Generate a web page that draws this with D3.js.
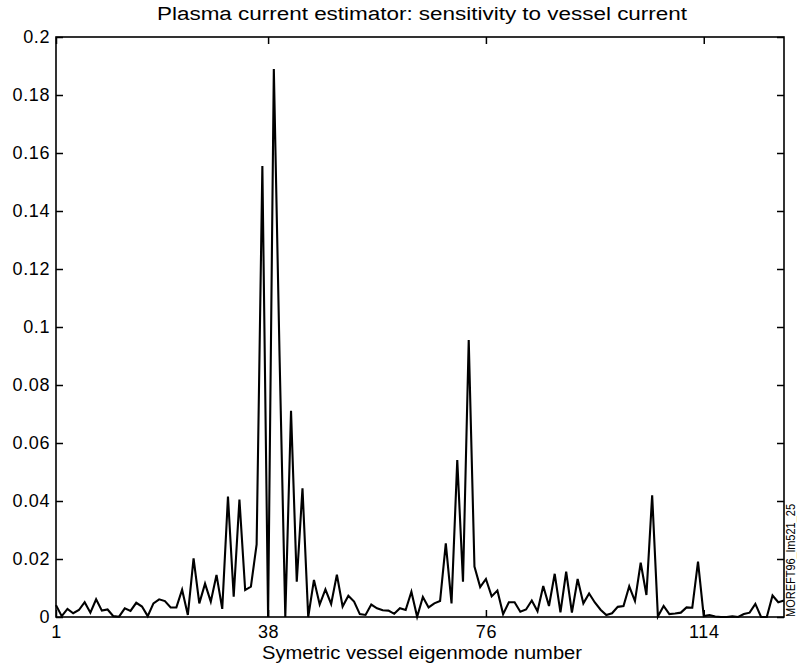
<!DOCTYPE html>
<html>
<head>
<meta charset="utf-8">
<script src="https://cdn.jsdelivr.net/npm/d3@7"></script>
<style>
  body { margin: 0; background: #fff; }
  svg text { font-family: "Liberation Sans", Arial, sans-serif; fill: #000; }
</style>
</head>
<body>
<div id="chart"></div>
<script>
// Chart texts
const titleText = "Plasma current estimator: sensitivity to vessel current";
const xLabelText = "Symetric vessel eigenmode number";
const sideTag = "MOREFT96_lm521_25";

// Tick values
const xTicks = [1, 38, 76, 114];
const yTicks = [0, 0.02, 0.04, 0.06, 0.08, 0.1, 0.12, 0.14, 0.16, 0.18, 0.2];

// Sensitivity per eigenmode (modes 1..128)
const sensitivity = [
  0.0041, 0.0003, 0.0028, 0.0013, 0.0024, 0.0051, 0.0015, 0.0061, 0.0022, 0.0026,
  0.0003, 0.0001, 0.0030, 0.0021, 0.0049, 0.0036, 0.0003, 0.0047, 0.0061, 0.0055,
  0.0033, 0.0033, 0.0094, 0.0007, 0.0202, 0.0047, 0.0115, 0.0053, 0.0145, 0.0028,
  0.0415, 0.0070, 0.0405, 0.0093, 0.0105, 0.0250, 0.1555, 0.0000, 0.1890, 0.0900,
  0.0000, 0.0711, 0.0122, 0.0444, 0.0000, 0.0128, 0.0043, 0.0095, 0.0045, 0.0146,
  0.0036, 0.0073, 0.0053, 0.0010, 0.0007, 0.0043, 0.0030, 0.0023, 0.0022, 0.0011,
  0.0030, 0.0024, 0.0087, 0.0001, 0.0069, 0.0033, 0.0047, 0.0055, 0.0254, 0.0047,
  0.0541, 0.0122, 0.0955, 0.0174, 0.0103, 0.0131, 0.0071, 0.0091, 0.0010, 0.0051,
  0.0051, 0.0018, 0.0026, 0.0057, 0.0020, 0.0107, 0.0038, 0.0149, 0.0016, 0.0156,
  0.0015, 0.0131, 0.0047, 0.0081, 0.0050, 0.0025, 0.0007, 0.0013, 0.0035, 0.0038,
  0.0106, 0.0055, 0.0187, 0.0076, 0.0420, 0.0002, 0.0038, 0.0010, 0.0012, 0.0015,
  0.0033, 0.0032, 0.0191, 0.0003, 0.0007, 0.0002, 0.0000, 0.0000, 0.0002, 0.0000,
  0.0010, 0.0015, 0.0045, 0.0000, 0.0000, 0.0074, 0.0051, 0.0057
];
const modes = sensitivity.map((d, i) => i + 1);

const W = 797, H = 671;
const margin = { top: 37, right: 13, bottom: 54, left: 56 };
const width = W - margin.left - margin.right,
      height = H - margin.top - margin.bottom;

const svg = d3.select("#chart").append("svg")
  .attr("width", W)
  .attr("height", H);

const g = svg.append("g")
  .attr("transform", `translate(${margin.left},${margin.top})`);

const x = d3.scaleLinear().domain([1, 128]).range([0, width]);
const y = d3.scaleLinear().domain([0, 0.2]).range([height, 0]);

const tickLen = 7;
const yFmt = d => d === 0 ? "0" : String(+d.toFixed(2));

// axes: ticks point inward, matlab style
g.append("g")
  .attr("transform", `translate(0,${height})`)
  .call(d3.axisBottom(x).tickValues(xTicks).tickSizeInner(-tickLen).tickSizeOuter(0).tickPadding(8))
  .call(a => a.select(".domain").remove());
g.append("g")
  .call(d3.axisTop(x).tickValues(xTicks).tickSizeInner(-tickLen).tickSizeOuter(0).tickFormat(""))
  .call(a => a.select(".domain").remove());
g.append("g")
  .call(d3.axisLeft(y).tickValues(yTicks).tickFormat(yFmt).tickSizeInner(-tickLen).tickSizeOuter(0).tickPadding(6))
  .call(a => a.select(".domain").remove());
g.append("g")
  .attr("transform", `translate(${width},0)`)
  .call(d3.axisRight(y).tickValues(yTicks).tickSizeInner(-tickLen).tickSizeOuter(0).tickFormat(""))
  .call(a => a.select(".domain").remove());

g.selectAll(".tick line").attr("stroke", "#000").attr("stroke-width", 1.5);
g.selectAll(".tick text")
  .style("font-size", "18px")
  .style("letter-spacing", "0.6px");

// frame
g.append("rect")
  .attr("width", width).attr("height", height)
  .attr("fill", "none").attr("stroke", "#000").attr("stroke-width", 1.6);

// data line
const line = d3.line()
  .x((d, i) => x(modes[i]))
  .y(d => y(d));

g.append("path")
  .datum(sensitivity)
  .attr("fill", "none")
  .attr("stroke", "#000")
  .attr("stroke-width", 2.1)
  .attr("stroke-linejoin", "miter")
  .attr("d", line);

// titles
svg.append("text")
  .attr("x", 157)
  .attr("y", 20)
  .attr("textLength", 530)
  .attr("lengthAdjust", "spacingAndGlyphs")
  .style("font-size", "18px")
  .text(titleText);

svg.append("text")
  .attr("x", 262)
  .attr("y", 659)
  .attr("textLength", 320)
  .attr("lengthAdjust", "spacingAndGlyphs")
  .style("font-size", "18px")
  .text(xLabelText);

// file tag along right edge
svg.append("text")
  .attr("transform", `translate(795,${margin.top + height}) rotate(-90)`)
  .attr("textLength", 113)
  .attr("lengthAdjust", "spacingAndGlyphs")
  .style("font-size", "13px")
  .text(sideTag);
</script>
</body>
</html>
